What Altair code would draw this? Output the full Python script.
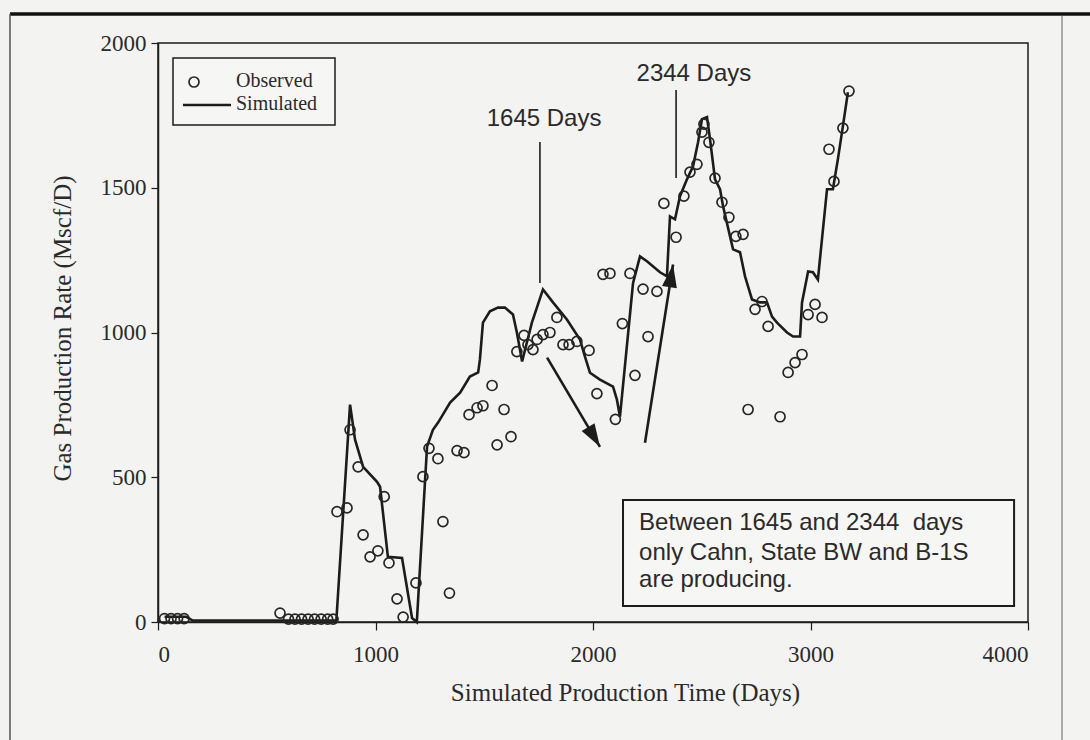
import altair as alt
import pandas as pd

# ---------------- data ----------------
sim_days = [30, 130, 160, 820, 883, 906, 943, 1007, 1021, 1057, 1122, 1168, 1190,
            1237, 1264, 1287, 1343, 1389, 1434, 1472, 1480, 1494, 1526, 1563, 1595,
            1632, 1650, 1674, 1719, 1770, 1816, 1880, 1940, 1963, 1986, 2032, 2092,
            2110, 2124, 2184, 2216, 2248, 2308, 2340, 2354, 2377, 2400, 2432, 2460,
            2483, 2501, 2524, 2538, 2561, 2584, 2598, 2630, 2644, 2676, 2699, 2731,
            2768, 2800, 2823, 2846, 2892, 2920, 2952, 2961, 2989, 3011, 3034, 3076,
            3103, 3126, 3149, 3172]
sim_vals = [18, 18, 5, 5, 751, 630, 536, 484, 467, 225, 221, 14, 0,
            606, 664, 688, 758, 792, 848, 862, 906, 1034, 1073, 1086, 1086,
            1062, 1000, 900, 1034, 1149, 1104, 1045, 976, 917, 861, 837, 813,
            768, 709, 1170, 1263, 1246, 1208, 1194, 1401, 1391, 1471, 1529, 1574,
            1657, 1737, 1744, 1668, 1529, 1495, 1436, 1332, 1287, 1277, 1194, 1114,
            1104, 1104, 1055, 1034, 1000, 986, 986, 1104, 1211, 1208, 1183, 1495,
            1495, 1599, 1713, 1830]

obs_days = [30, 60, 90, 120, 561, 600, 630, 660, 690, 720, 750, 780, 805,
            823, 869, 883, 920, 943, 975, 1011, 1040, 1062, 1099, 1127, 1186,
            1218, 1246, 1287, 1310, 1340, 1375, 1407, 1430, 1467, 1494, 1536, 1559,
            1591, 1623, 1650, 1683, 1701, 1724, 1743, 1770, 1802, 1834, 1862, 1890,
            1926, 1982, 2018, 2046, 2078, 2103, 2135, 2170, 2193, 2230, 2253, 2294,
            2326, 2382, 2418, 2446, 2478, 2501, 2510, 2533, 2561, 2593, 2625, 2657,
            2690, 2713, 2745, 2777, 2805, 2860, 2897, 2929, 2961, 2989, 3021, 3053,
            3085, 3108, 3149, 3177]
obs_vals = [12, 12, 12, 12, 31, 10, 10, 10, 10, 10, 10, 10, 10,
            381, 394, 664, 536, 301, 225, 246, 433, 204, 80, 17, 135,
            502, 600, 564, 347, 100, 592, 585, 716, 740, 747, 817, 612,
            734, 640, 934, 990, 958, 941, 976, 993, 1000, 1052, 958, 958,
            969, 938, 789, 1201, 1204, 700, 1031, 1204, 852, 1150, 986, 1142,
            1446, 1329, 1471, 1554, 1581, 1692, 1720, 1657, 1533, 1450, 1398, 1332,
            1339, 734, 1080, 1107, 1021, 709, 862, 896, 924, 1062, 1097, 1052,
            1633, 1522, 1706, 1834]

x_ticks = [0, 1000, 2000, 3000, 4000]
y_ticks = [0, 500, 1000, 1500, 2000]

# annotations (data coordinates)
ann_text = ["1645 Days", "2344 Days"]
ann_x = [1775, 2464]
ann_y = [1738, 1893]
ptr_x = [1756, 2382]
ptr_top = [1658, 1838]
ptr_bot = [1171, 1534]
arr_x1 = [1789, 2239]
arr_y1 = [913, 619]
arr_x2 = [2032, 2368]
arr_y2 = [605, 1235]
arr_angle = [149, 9]
box_lines = ["Between 1645 and 2344\u00a0 days", "only Cahn, State BW and B-1S", "are producing."]
box_line_y = [342, 238, 145]
box_text_x = 2212
box_x1, box_x2, box_y1, box_y2 = 2138, 3936, 421, 55

legend_labels = ["Observed", "Simulated"]

# ---------------- chart ----------------
INK = "#1c1c1c"
PAPER = "#f3f3f1"
SERIF = "Liberation Serif"
SANS = "Liberation Sans"

xs = alt.Scale(domain=[0, 4000], nice=False, zero=False)
ys = alt.Scale(domain=[0, 2000], nice=False, zero=False)

sim_df = pd.DataFrame({"day": sim_days, "rate": sim_vals})
obs_df = pd.DataFrame({"day": obs_days, "rate": obs_vals})
one = pd.DataFrame({"a": [0]})

x_axis = alt.Axis(values=x_ticks, format="d", title="Simulated Production Time (Days)", grid=False,
                  tickSize=8, tickColor=INK, domainColor=INK, domainWidth=1.5, tickWidth=1.2,
                  labelFont=SERIF, labelFontSize=23, labelColor="#2a2a2a", labelPadding=13,
                  titleFont=SERIF, titleFontSize=25, titleFontWeight="normal", titleColor="#2a2a2a",
                  titleX=467, titleY=70, titleBaseline="middle", titleAlign="center")
y_axis = alt.Axis(values=y_ticks, format="d", title="Gas Production Rate (Mscf/D)", grid=False,
                  tickSize=7, tickColor=INK, domainColor=INK, domainWidth=1.5, tickWidth=1.2,
                  labelFont=SERIF, labelFontSize=23, labelColor="#2a2a2a", labelPadding=5,
                  titleFont=SERIF, titleFontSize=25, titleFontWeight="normal", titleColor="#2a2a2a",
                  titleX=-96, titleY=285, titleAngle=270, titleBaseline="middle", titleAlign="center")

line = alt.Chart(sim_df).mark_line(color=INK, strokeWidth=2.6).encode(
    x=alt.X("day:Q", scale=xs, axis=x_axis),
    y=alt.Y("rate:Q", scale=ys, axis=y_axis),
    order="day:Q",
)
pts = alt.Chart(obs_df).mark_point(shape="circle", filled=False, size=100, strokeWidth=1.7,
                                   color="#262626", opacity=1).encode(
    x=alt.X("day:Q", scale=xs), y=alt.Y("rate:Q", scale=ys))

ann_df = pd.DataFrame({"t": ann_text, "x": ann_x, "y": ann_y})
ann = alt.Chart(ann_df).mark_text(font=SANS, fontSize=24, color="#2a2a2a", baseline="middle",
                                  align="center").encode(
    x=alt.X("x:Q", scale=xs), y=alt.Y("y:Q", scale=ys), text="t:N")

ptr_df = pd.DataFrame({"x": ptr_x, "y1": ptr_top, "y2": ptr_bot})
ptr = alt.Chart(ptr_df).mark_rule(color=INK, strokeWidth=1.6).encode(
    x=alt.X("x:Q", scale=xs), y=alt.Y("y1:Q", scale=ys), y2="y2:Q")

arr_df = pd.DataFrame({"x1": arr_x1, "y1": arr_y1, "x2": arr_x2, "y2": arr_y2, "ang": arr_angle})
arr = alt.Chart(arr_df).mark_rule(color=INK, strokeWidth=2.6).encode(
    x=alt.X("x1:Q", scale=xs), y=alt.Y("y1:Q", scale=ys), x2="x2:Q", y2="y2:Q")
heads = alt.Chart(arr_df).mark_point(shape="M0,0L0.75,2.3L-0.75,2.3Z", filled=True, size=400,
                                     color=INK, opacity=1).encode(
    x=alt.X("x2:Q", scale=xs), y=alt.Y("y2:Q", scale=ys),
    angle=alt.Angle("ang:Q", scale=None))

box_df = pd.DataFrame({"x1": [box_x1], "x2": [box_x2], "y1": [box_y1], "y2": [box_y2]})
box = alt.Chart(box_df).mark_rect(fill="#f6f6f4", stroke=INK, strokeWidth=2).encode(
    x=alt.X("x1:Q", scale=xs), x2="x2:Q", y=alt.Y("y1:Q", scale=ys), y2="y2:Q")
bt_df = pd.DataFrame({"t": box_lines, "y": box_line_y, "x": [box_text_x] * 3})
btxt = alt.Chart(bt_df).mark_text(font=SANS, fontSize=24, color="#2a2a2a", align="left",
                                  baseline="middle").encode(
    x=alt.X("x:Q", scale=xs), y=alt.Y("y:Q", scale=ys), text="t:N")

# legend (drawn by hand, pixel positions inside the plot area)
leg_box = alt.Chart(one).mark_rect(fill="#f6f6f4", stroke=INK, strokeWidth=1.5).encode(
    x=alt.value(15), x2=alt.value(177), y=alt.value(15), y2=alt.value(82))
leg_pt = alt.Chart(one).mark_point(shape="circle", filled=False, size=100, strokeWidth=1.7,
                                   color="#262626", opacity=1).encode(x=alt.value(36), y=alt.value(39))
leg_ln = alt.Chart(one).mark_rule(color=INK, strokeWidth=2.6).encode(
    x=alt.value(25), x2=alt.value(73), y=alt.value(62))
leg_t1 = alt.Chart(one).mark_text(font=SERIF, fontSize=20, color="#2a2a2a", align="left",
                                  baseline="middle", text=legend_labels[0]).encode(
    x=alt.value(78), y=alt.value(38))
leg_t2 = alt.Chart(one).mark_text(font=SERIF, fontSize=20, color="#2a2a2a", align="left",
                                  baseline="middle", text=legend_labels[1]).encode(
    x=alt.value(78), y=alt.value(61))

# page edges of the scan
edge_top = alt.Chart(one).mark_rule(color="#111", strokeWidth=3.5).encode(
    x=alt.value(-148), x2=alt.value(932), y=alt.value(-29))
edge_left = alt.Chart(one).mark_rule(color="#555", strokeWidth=1.5).encode(
    x=alt.value(-148), y=alt.value(-29), y2=alt.value(697))
edge_right = alt.Chart(one).mark_rule(color="#aaa", strokeWidth=2).encode(
    x=alt.value(904), y=alt.value(-27), y2=alt.value(697))

chart = alt.layer(
    edge_top, edge_left, edge_right,
    box, btxt, line, pts, ptr, arr, heads, ann,
    leg_box, leg_pt, leg_ln, leg_t1, leg_t2,
).properties(
    width=870, height=579,
    padding={"left": 158, "top": 43, "right": 62, "bottom": 118},
    autosize=alt.AutoSizeParams(type="none"),
).configure(background=PAPER).configure_view(stroke=INK, strokeWidth=1.5, fill=PAPER)

chart.save("out.html", embed_options={"renderer": "svg", "actions": False})
